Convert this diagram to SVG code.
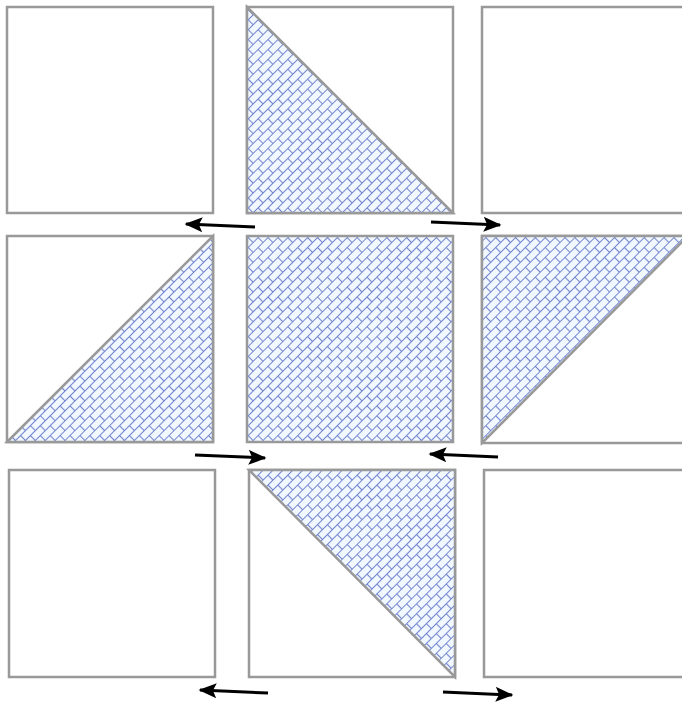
<svg xmlns="http://www.w3.org/2000/svg" width="682" height="704" viewBox="0 0 682 704">
<style>
.sq{fill:#fff;stroke:#999;stroke-width:2.5}
.tri{fill:url(#brick);stroke:#999;stroke-width:2.5;stroke-linejoin:miter}
.ar{stroke:#000;stroke-width:3;fill:none;marker-end:url(#ah)}
</style>
<defs>
<pattern id="brick" width="14" height="14" patternUnits="userSpaceOnUse" patternTransform="rotate(-45)">
<rect width="14" height="14" fill="#f2f8ff"/>
<path d="M0 0.5H14M0 7.5H14M0.5 0.5V7.5M7.5 7.5V14.5" stroke="#7385cf" stroke-width="1.1" fill="none"/>
</pattern>
<marker id="ah" markerWidth="6" markerHeight="5" refX="5.5" refY="2.5" orient="auto" markerUnits="strokeWidth">
<path d="M0 0L6 2.5L0 5L1.2 2.5Z" fill="#000"/>
</marker>
</defs>
<g id="n1"><rect class="sq" x="7" y="7" width="206" height="206"/></g>
<g id="n2"><rect class="sq" x="247" y="7" width="206" height="206"/><path class="tri" d="M247 7L453 213H247Z"/></g>
<g id="n3"><rect class="sq" x="482" y="7" width="206" height="206"/></g>
<g id="n4"><rect class="sq" x="7" y="236" width="206" height="206"/><path class="tri" d="M7 442L213 236V442Z"/></g>
<g id="n5"><rect class="tri" x="247" y="236" width="206" height="206"/></g>
<g id="n6"><rect class="sq" x="482" y="236" width="206" height="207"/><path class="tri" d="M482 236H688L482 443Z"/></g>
<g id="n7"><rect class="sq" x="9" y="470" width="206" height="207"/></g>
<g id="n8"><rect class="sq" x="249" y="470" width="206" height="207"/><path class="tri" d="M249 470H455V677Z"/></g>
<g id="n9"><rect class="sq" x="484" y="470" width="206" height="207"/></g>
<g id="connectors">
<line class="ar" x1="255" y1="227" x2="186" y2="224"/>
<line class="ar" x1="431" y1="222" x2="500" y2="225"/>
<line class="ar" x1="195" y1="455" x2="265" y2="458"/>
<line class="ar" x1="498" y1="457" x2="430" y2="454"/>
<line class="ar" x1="268" y1="693" x2="200" y2="690"/>
<line class="ar" x1="443" y1="692" x2="512" y2="695"/>
</g>
</svg>
